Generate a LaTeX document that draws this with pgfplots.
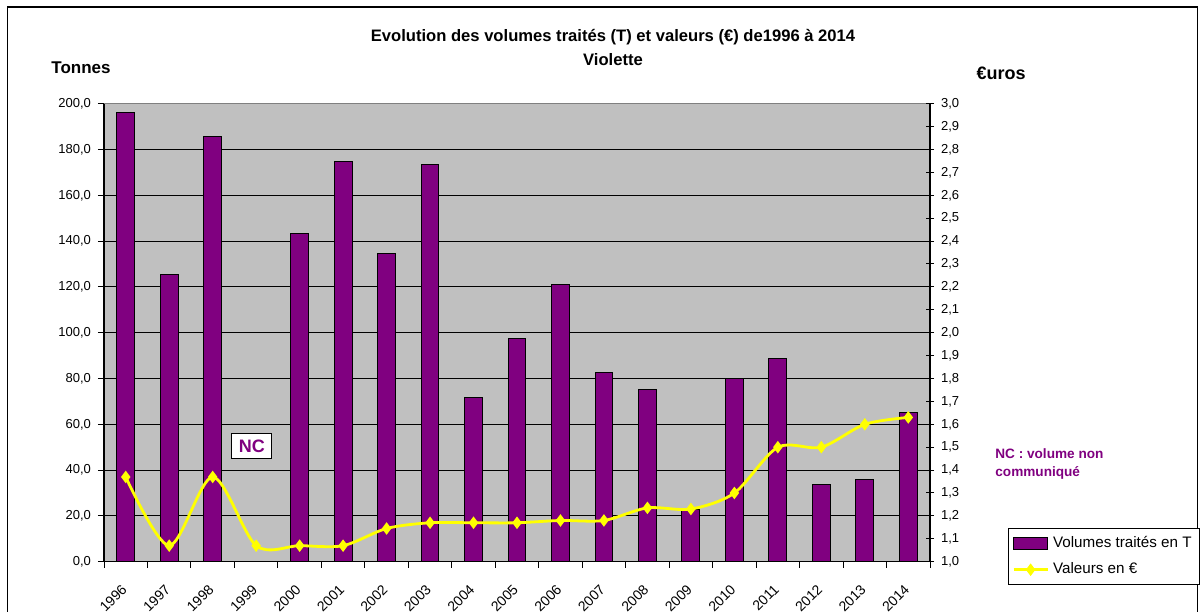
\documentclass[border=0pt]{standalone}
\usepackage{pgfplots}
\pgfplotsset{compat=1.18}
\usepackage{fontspec}
\setmainfont{Liberation Sans}
\definecolor{barpurple}{HTML}{800080}
\definecolor{plotbg}{HTML}{C0C0C0}
\definecolor{lineyellow}{HTML}{FFFF00}

\pgfplotstableread{
x y
0 196.0
1 125.4
2 185.5
4 143.2
5 174.6
6 134.5
7 173.4
8 71.8
9 97.3
10 120.9
11 82.5
12 75.1
13 22.6
14 80.2
15 88.8
16 33.8
17 36.0
18 65.3
}\volumes

\pgfplotstableread{
x y
0 1.37
1 1.07
2 1.37
3 1.07
4 1.07
5 1.07
6 1.145
7 1.17
8 1.17
9 1.17
10 1.18
11 1.18
12 1.235
13 1.23
14 1.30
15 1.50
16 1.50
17 1.60
18 1.63
}\valeurs

\begin{document}
\begin{tikzpicture}
\path[use as bounding box] (0pt,0pt) rectangle (600pt,305.5pt);
\draw[black, line width=0.7pt] (3.6pt,-10pt) rectangle (598.6pt,302pt);

\begin{axis}[
  at={(52pt,24.65pt)}, anchor=south west, scale only axis,
  width=413pt, height=229pt,
  xmin=-0.5, xmax=18.5, ymin=0, ymax=200,
  axis background/.style={fill=plotbg},
  axis x line*=bottom, axis y line*=left,
  axis line style={-, black, line width=0.6pt},
  ytick={0,20,...,200},
  ymajorgrids, grid style={black, line width=0.5pt},
  xtick={0,...,18},
  xticklabels={1996,1997,1998,1999,2000,2001,2002,2003,2004,2005,2006,2007,2008,2009,2010,2011,2012,2013,2014},
  minor xtick={-0.5,0.5,...,18.5},
  major x tick style={draw=none},
  minor x tick style={black, line width=0.5pt},
  y tick style={black, line width=0.5pt},
  tick align=outside,
  major tick length=3pt, minor tick length=3pt,
  xticklabel style={xshift=-2.5pt, yshift=-3pt, rotate=45, anchor=north east, font=\fontsize{7}{8}\selectfont},
  yticklabel style={font=\fontsize{6.5}{7}\selectfont},
  /pgf/number format/assume math mode=true,
  y tick label style={/pgf/number format/.cd, fixed, fixed zerofill, precision=1, use comma, 1000 sep={}},
  clip=false,
]
\addplot[ybar, bar width=0.41, fill=barpurple, draw=black, line width=0.5pt] table[x=x,y=y] {\volumes};
\draw[gray, line width=0.6pt] (rel axis cs:0,1) -- (rel axis cs:1,1);
\node[draw=black, fill=white, line width=0.5pt, text=barpurple, font=\bfseries\fontsize{9}{10}\selectfont, inner sep=2.5pt, minimum width=20pt, minimum height=12.5pt] at (axis cs:2.9,50.6) {NC};
\end{axis}

\begin{axis}[
  at={(52pt,24.65pt)}, anchor=south west, scale only axis,
  width=413pt, height=229pt,
  xmin=-0.5, xmax=18.5, ymin=1, ymax=3,
  axis x line=none, axis y line*=right,
  axis line style={-, black, line width=0.6pt},
  ytick={1.0,1.1,1.2,1.3,1.4,1.5,1.6,1.7,1.8,1.9,2.0,2.1,2.2,2.3,2.4,2.5,2.6,2.7,2.8,2.9,3.0},
  y tick style={black, line width=0.5pt},
  tick align=center, major tick length=4pt,
  yticklabel style={font=\fontsize{6.5}{7}\selectfont},
  /pgf/number format/assume math mode=true,
  y tick label style={/pgf/number format/.cd, fixed, fixed zerofill, precision=1, use comma},
  legend style={at={(rel axis cs:1.094,0.0735)}, anchor=north west, draw=black, fill=white,
    line width=0.5pt, font=\fontsize{7.6}{9}\selectfont, cells={anchor=west},
    inner sep=2pt, row sep=2pt},
  legend cell align=left,
  clip=false,
]
\addlegendimage{area legend, fill=barpurple, draw=black}
\addlegendentry{Volumes traités en T}
\addplot[lineyellow, line width=1.4pt, smooth, tension=0.5, mark=diamond*, mark size=2pt, mark options={fill=lineyellow, draw=lineyellow}] table[x=x,y=y] {\valeurs};
\addlegendentry{Valeurs en €}
\end{axis}

\node[font=\bfseries\fontsize{8.3}{9}\selectfont] at (306.5pt,287pt) {Evolution des volumes traités (T) et valeurs (€) de1996 à 2014};
\node[font=\bfseries\fontsize{8.3}{9}\selectfont] at (306.5pt,275.5pt) {Violette};
\node[font=\bfseries\fontsize{8.5}{9}\selectfont] at (40.5pt,271.5pt) {Tonnes};
\node[font=\bfseries\fontsize{9}{10}\selectfont] at (500.5pt,269pt) {€uros};
\node[anchor=north west, align=left, text=barpurple, font=\bfseries\fontsize{6.8}{9}\selectfont, inner sep=0pt] at (497.5pt,81.5pt) {NC : volume non\\communiqué};
\end{tikzpicture}
\end{document}
